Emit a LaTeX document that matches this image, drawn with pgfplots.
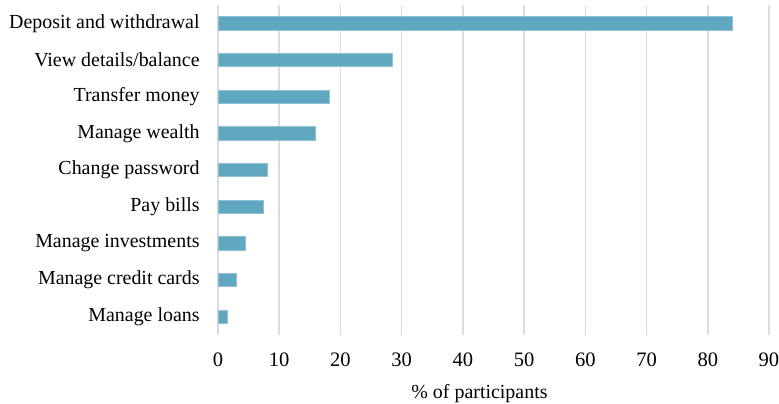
\documentclass[border=0pt]{standalone}
\usepackage{pgfplots}
\pgfplotsset{compat=1.18}
\usepackage{fontspec}
\setmainfont{Liberation Serif}
\definecolor{barc}{HTML}{5FA8BF}
\definecolor{gridc}{HTML}{DCDCDC}
\begin{document}
\fontsize{10}{12}\selectfont
\begin{tikzpicture}
\begin{axis}[
  scale only axis,
  width=275.5bp, height=165bp,
  xbar, bar width=0.36,
  xmin=0, xmax=90,
  ymin=-0.5, ymax=8.5,
  y dir=reverse,
  xtick={0,10,...,90},
  ytick={0,...,8},
  yticklabels={Deposit and withdrawal, View details/balance, Transfer money, Manage wealth, Change password, Pay bills, Manage investments, Manage credit cards, Manage loans},
  axis line style={draw=none},
  major tick length=0pt,
  xmajorgrids,
  major grid style={gridc, line width=0.75bp},
  /pgf/number format/assume math mode=true,
  xticklabel style={font=\fontsize{10.3}{12}\selectfont, anchor=center, yshift=-12.5bp, inner sep=0pt},
  yticklabel style={font=\fontsize{10}{12}\selectfont, anchor=east, inner sep=0pt, xshift=-9bp},
  xlabel={\% of participants},
  xlabel style={at={(axis description cs:0.5,0)}, anchor=center, xshift=-7bp, yshift=-29.5bp, inner sep=0pt},
  label style={font=\fontsize{10}{12}\selectfont},
]
\addplot[fill=barc, draw=barc!70!white, line width=0.3bp] coordinates {
  (84.0,0) (28.4,1) (18.2,2) (15.9,3) (8.0,4) (7.4,5) (4.5,6) (3.0,7) (1.6,8)
};
\end{axis}
\pgfresetboundingbox
\path (current axis.south west) ++(-109bp,-34.5bp) rectangle ++(389.5bp,202bp);
\end{tikzpicture}
\end{document}
